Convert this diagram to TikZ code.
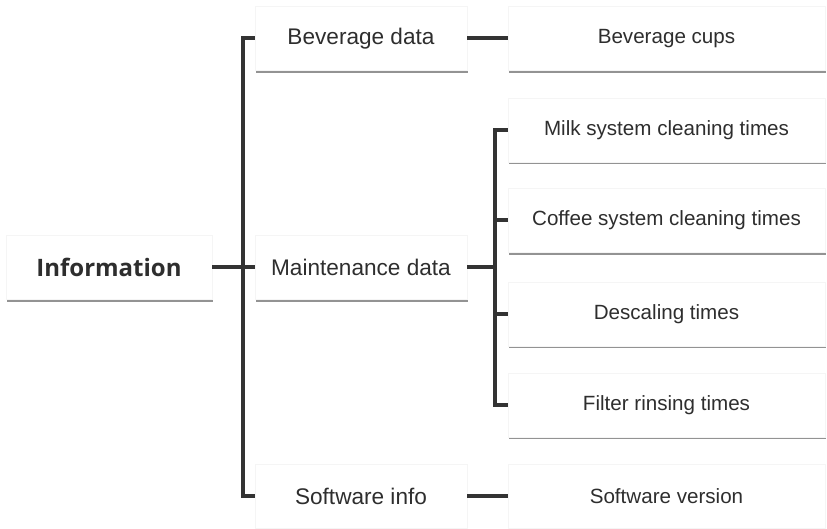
\documentclass[tikz,border=0pt]{standalone}
\usepackage{fontspec}
\setmainfont{Liberation Sans}
\newfontfamily\infofont{Open Sans}
\usetikzlibrary{shadows}
\definecolor{txt}{HTML}{2E2E2E}
\definecolor{ln}{HTML}{333333}
\tikzset{
  box/.style={rectangle, draw=black!4, line width=0.6pt, fill=white, text=txt,
    inner sep=0pt, minimum height=64pt,
    drop shadow={shadow xshift=1.2pt, shadow yshift=-2.4pt, fill=black!50, opacity=0.85}},
  midbox/.style={box, minimum width=212pt, font=\fontsize{22.6}{26}\selectfont},
  wide/.style={box, minimum width=317pt, font=\fontsize{20.6}{24}\selectfont},
  conn/.style={draw=ln, line width=4pt, line join=miter},
}
\begin{document}
\begin{tikzpicture}[x=1pt, y=-1pt]
\useasboundingbox (0,0) rectangle (827,529);
\node[box, minimum width=206pt, font=\infofont\bfseries\fontsize{24}{28}\selectfont] (info) at (109,267.5) {Information};
\node[midbox] (bevd) at (361,38.5) {Beverage data};
\node[midbox] (maint) at (361,267.5) {Maintenance data};
\node[midbox] (soft) at (361,496) {Software info};
\node[wide] (bevc) at (666.5,38.5) {Beverage cups};
\node[wide] (milk) at (666.5,130) {Milk system cleaning times};
\node[wide] (coffee) at (666.5,220.5) {Coffee system cleaning times};
\node[wide] (desc) at (666.5,314) {Descaling times};
\node[wide] (filter) at (666.5,405) {Filter rinsing times};
\node[wide] (softv) at (666.5,496) {Software version};
\coordinate (j1) at (243,267.5);
\coordinate (j2) at (495,267.5);
\draw[conn] (bevd.west) -| (j1) |- (soft.west);
\draw[conn] (info.east) -- (maint.west);
\draw[conn] (milk.west) -| (j2) |- (filter.west);
\draw[conn] (maint.east) -- (j2);
\draw[conn] (coffee.west) -- (coffee.west -| j2);
\draw[conn] (desc.west) -- (desc.west -| j2);
\draw[conn] (bevd.east) -- (bevc.west);
\draw[conn] (soft.east) -- (softv.west);
\end{tikzpicture}
\end{document}
